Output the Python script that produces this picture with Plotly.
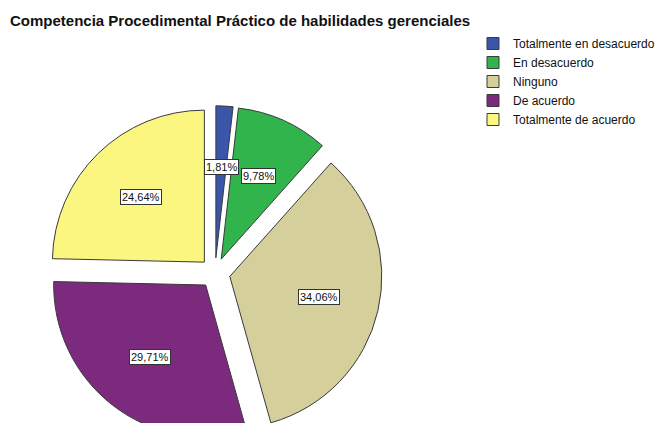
import math
import plotly.graph_objects as go

# ---- data ----
categories = ["Totalmente en desacuerdo", "En desacuerdo", "Ninguno", "De acuerdo", "Totalmente de acuerdo"]
percentages = [1.81, 9.78, 34.06, 29.71, 24.64]
colors = ["#3B55A9", "#31B44B", "#D5CF9C", "#7B2A7E", "#FAF680"]
title_text = "Competencia Procedimental Práctico de habilidades gerenciales"

# ---- layout constants (pixels, figure coordinates; page adds an 8px body margin) ----
W, H = 668, 440
CX, CY = 207, 265      # pie centre
R = 152                # pie radius
PULL = 0.1             # explode fraction
LABEL_F = 0.6          # label radius fraction

half = R * (1 + PULL)
dom_x = [(CX - half) / W, (CX + half) / W]
dom_y = [1 - (CY + half) / H, 1 - (CY - half) / H]

fig = go.Figure(go.Pie(
    labels=categories,
    values=percentages,
    marker=dict(colors=colors, line=dict(color="#3a3a3a", width=1)),
    pull=[PULL] * len(percentages),
    sort=False,
    direction="clockwise",
    rotation=0,
    textinfo="none",
    domain=dict(x=dom_x, y=dom_y),
))

# boxed percentage labels placed at each slice's mid-angle
annotations = []
total = sum(percentages)
cum = 0.0
for v in percentages:
    theta = math.radians(360.0 * (cum + v / 2) / total)
    cum += v
    d = R * PULL + LABEL_F * R
    px = CX + d * math.sin(theta)
    py = CY - d * math.cos(theta)
    annotations.append(dict(
        x=px / W, y=1 - py / H, xref="paper", yref="paper",
        xanchor="center", yanchor="middle",
        text=f"{v:.2f}".replace(".", ",") + "%",
        showarrow=False,
        font=dict(family="Liberation Sans, Arial, sans-serif", size=11, color="#111"),
        bgcolor="white", bordercolor="#333", borderwidth=1, borderpad=1,
    ))

fig.update_layout(
    width=W, height=H,
    margin=dict(l=0, r=0, t=0, b=0, pad=0),
    paper_bgcolor="white", plot_bgcolor="white",
    font=dict(family="Liberation Sans, Arial, sans-serif", color="#111"),
    title=dict(text=f"<b>{title_text}</b>", x=2 / W, xanchor="left",
               y=1 - 13 / H, yanchor="middle", yref="container",
               font=dict(size=15, color="#111")),
    legend=dict(x=465 / W, xanchor="left", y=1 - 21 / H, yanchor="top",
                font=dict(size=12, color="#111"), bgcolor="rgba(0,0,0,0)",
                traceorder="normal"),
    annotations=annotations,
)

fig.write_html("out.html")
